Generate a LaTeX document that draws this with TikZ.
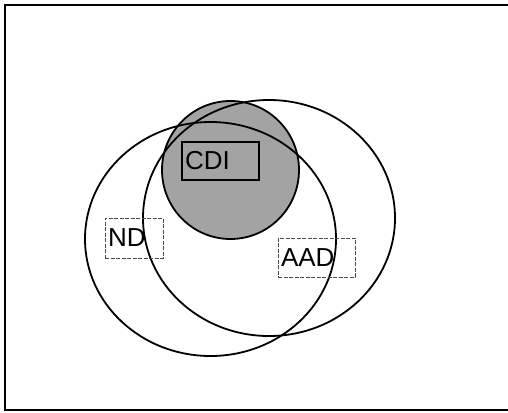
\documentclass[tikz,border=0pt]{standalone}
\usepackage{fontspec}
\setmainfont{Liberation Sans}
\begin{document}
\begin{tikzpicture}[x=1pt,y=-1pt,
  setline/.style={line width=1.8pt},
  framerule/.style={line width=1.2pt},
  labeltext/.style={font=\fontsize{26}{30}\selectfont, inner sep=3pt, align=left, anchor=center},
  solidbox/.style={labeltext, draw, line width=1.6pt},
  dashbox/.style={labeltext, draw=black!70, line width=0.7pt, dash pattern=on 4pt off 1.5pt}
]
\useasboundingbox (0,0) rectangle (508,412);
% outer frame (left, top and bottom rules)
\draw[framerule] (508,5) -- (5,5) -- (5,410) -- (508,410);
% shaded set CDI
\fill[black!36] (230.5,170) ellipse [x radius=68.5pt, y radius=69pt];
% outlines of the three sets
\draw[setline] (230.5,170) ellipse [x radius=68.5pt, y radius=69pt];
\draw[setline] (210.5,239) ellipse [x radius=125.5pt, y radius=117pt];
\draw[setline] (269,218) ellipse [x radius=126pt, y radius=118pt];
% labels
\node[solidbox, text width=71pt, minimum height=38pt] (cdi) at (220.5,161) {CDI};
\node[dashbox, text width=52pt, minimum height=40pt] (nd) at (134,238) {ND};
\node[dashbox, text width=71pt, minimum height=39pt] (aad) at (316.5,257.5) {AAD};
\end{tikzpicture}
\end{document}
